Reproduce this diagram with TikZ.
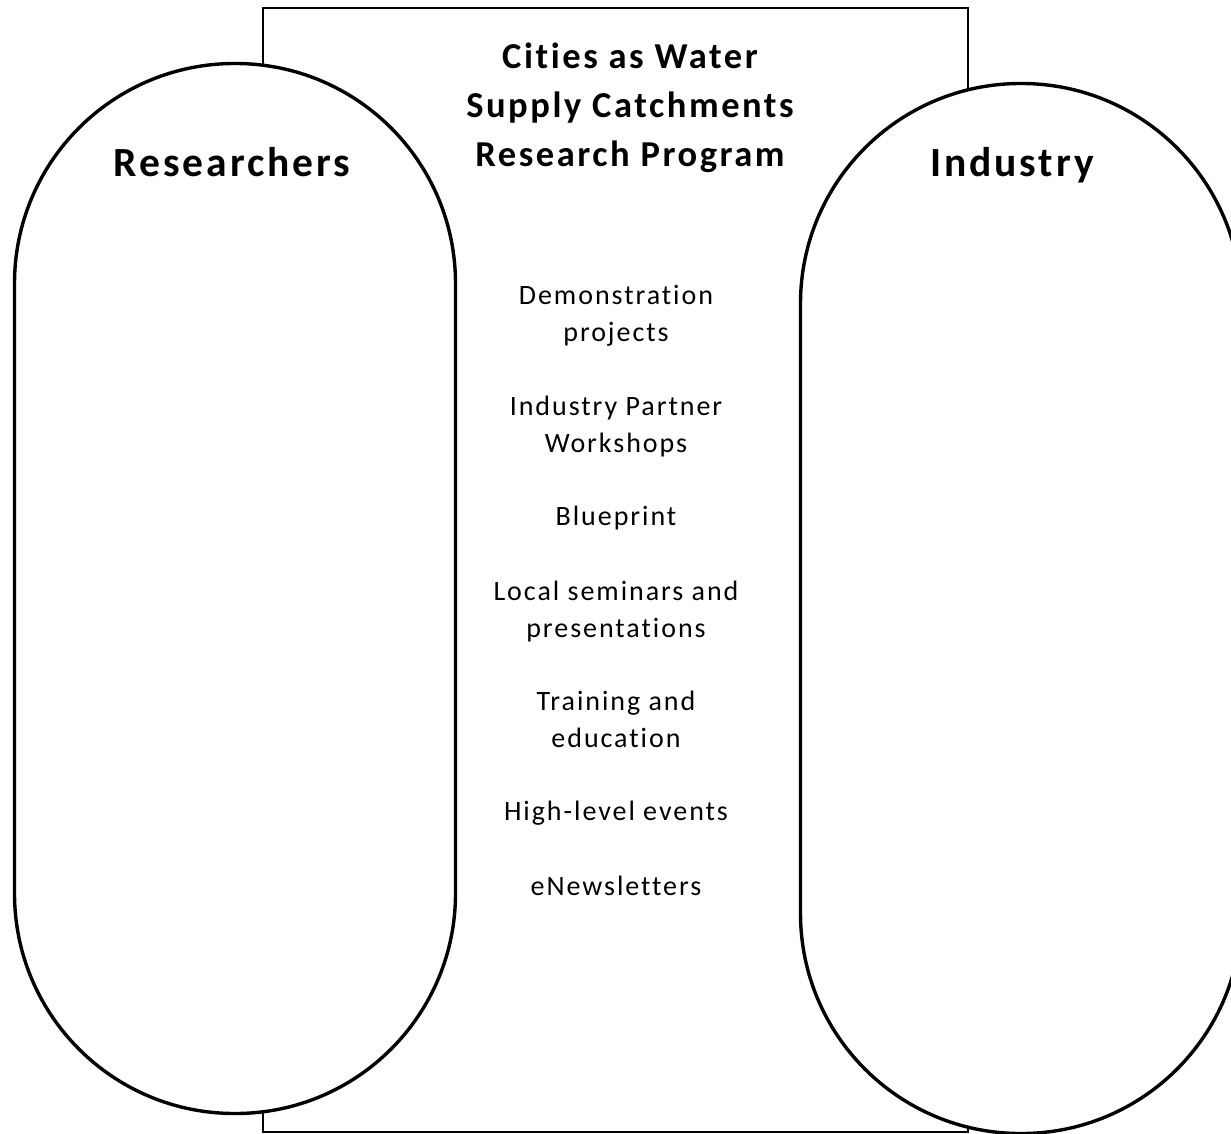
\documentclass[tikz,border=0pt]{standalone}
\usepackage{fontspec}
\setmainfont[LetterSpace=7,RawFeature=-liga]{Carlito}
\usetikzlibrary{positioning}

\begin{document}
\begin{tikzpicture}[x=1pt,y=-1pt]

\tikzset{pill/.style={draw,line width=3.4pt,fill=white,minimum width=441pt,minimum height=1050pt,rounded corners=220pt,inner sep=0pt},
heading/.style={font=\fontsize{36.5}{49}\selectfont\bfseries,align=center,anchor=base},
item/.style={font=\fontsize{28}{37}\selectfont,align=center,anchor=base}}

\useasboundingbox (0,0) rectangle (1231,1134);

% Program box
\node (prog) [draw,line width=2.6pt,minimum width=705pt,minimum height=1124pt,inner sep=0pt] at (615.5,570) {};

% Partner pills
\node (res) [pill] at (235,588.5) {};
\node (ind) [pill] at (1021,608.5) {};

% Headings (base = last line)
\node (resLabel) [heading,font=\fontsize{41.5}{49}\selectfont\bfseries] at (232,177) {Researchers};
\node (indLabel) [heading,font=\fontsize{41.5}{49}\selectfont\bfseries] at (1012,177) {Industry};
\node (progLabel) [heading] at (630,167) {Cities as Water\\Supply Catchments\\Research Program};

% Activities
\node (i1) [item] at (616,341) {Demonstration\\projects};
\node (i2) [item] at (616,452) {Industry Partner\\Workshops};
\node (i3) [item] at (616,525) {Blueprint};
\node (i4) [item] at (616,637) {Local seminars and\\presentations};
\node (i5) [item] at (616,747) {Training and\\education};
\node (i6) [item] at (616,820) {High-level events};
\node (i7) [item] at (616,895) {eNewsletters};

\end{tikzpicture}
\end{document}
